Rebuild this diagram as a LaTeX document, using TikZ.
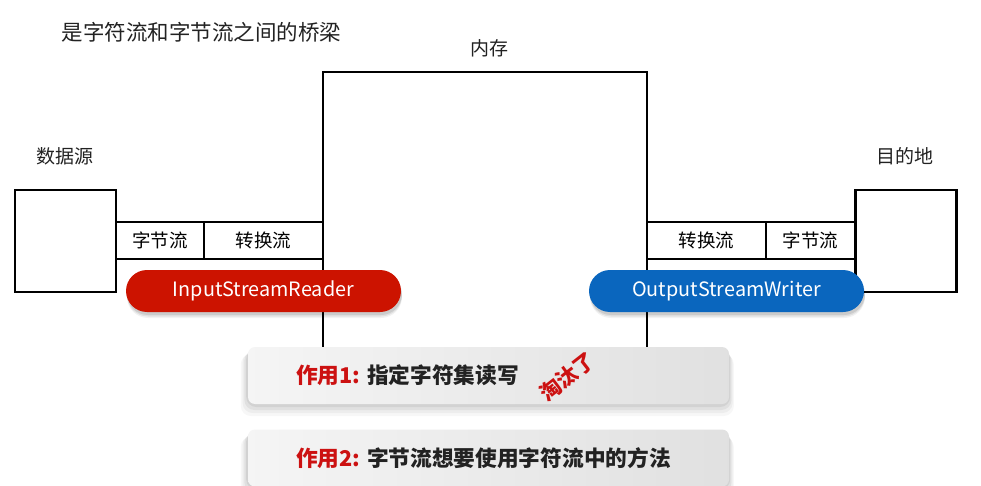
\documentclass[tikz,border=0pt]{standalone}
\usepackage{fontspec}
\setmainfont{Noto Sans CJK SC}
\usetikzlibrary{positioning}
\definecolor{pillred}{HTML}{CC1300}
\definecolor{pillblue}{HTML}{0A66BE}
\definecolor{txtred}{HTML}{CC1111}
\definecolor{txtdark}{HTML}{222222}
\tikzset{
  line/.style={line width=2.6pt, draw=black},
  cell/.style={line, minimum height=37pt, inner sep=0pt, font=\fontsize{18.5}{18.5}\selectfont},
  bigbox/.style={line, minimum width=101pt, minimum height=102pt, inner sep=0pt},
  pill/.style={rounded corners=21pt, minimum width=275pt, minimum height=42pt, inner sep=0pt, text=white, font=\fontsize{19.8}{19.8}\selectfont},
  card/.style={rounded corners=7pt, minimum width=481pt, minimum height=57pt, inner sep=0pt, left color=white!96!black, right color=white!88!black},
  lbl/.style={font=\fontsize{19}{19}\selectfont, text=txtdark},
  cardtxt/.style={font=\fontsize{21.7}{21.7}\selectfont\bfseries, anchor=west, inner sep=0pt}
}
\begin{document}
\begin{tikzpicture}[x=1pt,y=-1pt]
\useasboundingbox[fill=white] (0,0) rectangle (981,486);
% title
\node[lbl, anchor=west, font=\fontsize{21.5}{21.5}\selectfont] (title) at (58,32) {是字符流和字节流之间的桥梁};
\node[lbl] (mem) at (489,48) {内存};
% memory outline
\coordinate (m1) at (323,352);
\coordinate (m2) at (323,72);
\coordinate (m3) at (647,72);
\coordinate (m4) at (647,352);
\draw[line, line join=miter] (m1) -- (m2) -- (m3) -- (m4);
% source
\node[lbl] (srclbl) at (65,156) {数据源};
\node[bigbox] (src) at (65.5,241) {};
\node[cell, minimum width=88pt] (b1) at (160,240.5) {字节流};
\node[cell, minimum width=119pt] (c1) at (263.5,240.5) {转换流};
% destination
\node[lbl] (dstlbl) at (905,156) {目的地};
\node[bigbox] (dst) at (906,241) {};
\node[cell, minimum width=119pt] (c2) at (706.5,240.5) {转换流};
\node[cell, minimum width=89pt] (b2) at (810.5,240.5) {字节流};
% pills with soft shadow
\foreach \cx in {263.5,726.5}{
  \foreach \d/\o in {6/0.05,4.5/0.07,3/0.09}{
    \fill[black, opacity=\o, rounded corners=21pt] (\cx-137.5+1,270+\d) rectangle (\cx+137.5+1,312+\d);
  }
}
\node[pill, fill=pillred] (isr) at (263.5,291) {InputStreamReader};
\node[pill, fill=pillblue] (osw) at (726.5,291) {OutputStreamWriter};
% cards with shadow
\foreach \cy in {375.5,458}{
  \foreach \d/\o in {12/0.03,9/0.04,6/0.05,3/0.06}{
    \fill[black, opacity=\o, rounded corners=10pt] (248-\d*0.6,\cy-28.5+\d*0.6) rectangle (729+\d*0.4,\cy+28.5+\d);
  }
}
\node[card] (card1) at (488.5,375.5) {};
\node[card] (card2) at (488.5,458) {};
\node[cardtxt] (t1) at (296,375) {\textcolor{txtred}{作用1:} \textcolor{txtdark}{指定字符集读写}};
\node[cardtxt] (t2) at (296,458) {\textcolor{txtred}{作用2:} \textcolor{txtdark}{字节流想要使用字符流中的方法}};
\node[font=\fontsize{21}{21}\selectfont\bfseries, text=txtred, rotate=38, inner sep=0pt] (tao) at (567,377) {淘汰了};
\end{tikzpicture}
\end{document}
